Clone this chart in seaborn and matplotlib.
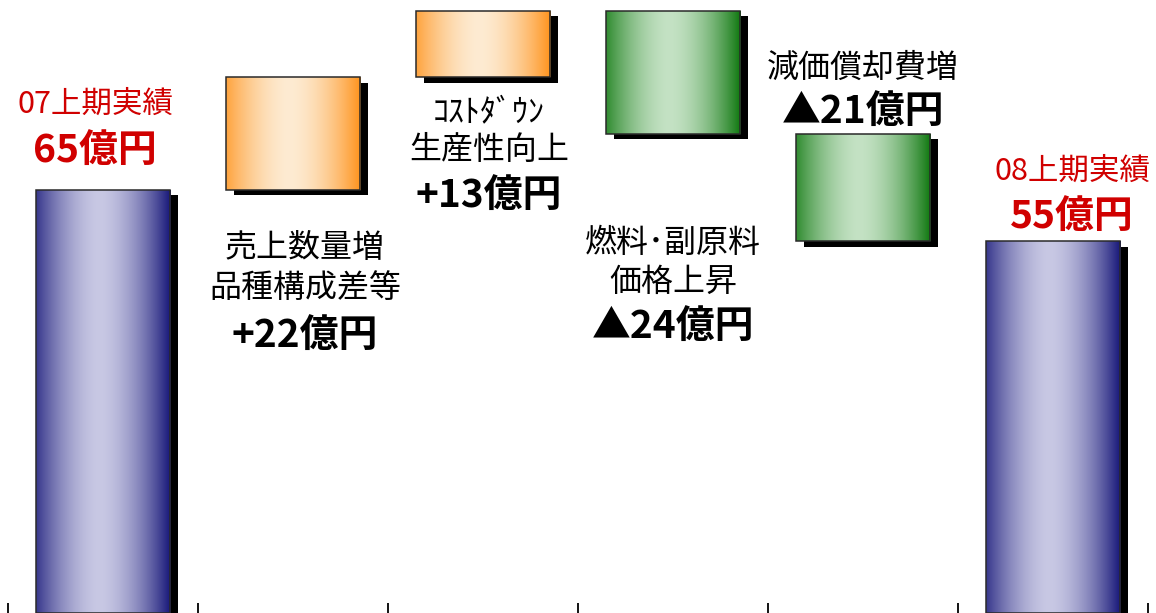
import numpy as np
import pandas as pd
import matplotlib
matplotlib.use("Agg")
import matplotlib.pyplot as plt
import matplotlib.patheffects as pe
from matplotlib.patches import Rectangle
from matplotlib.colors import to_rgb
import seaborn as sns

# ---- data -------------------------------------------------------------
steps = ["07上期実績", "売上数量増・品種構成差等", "コストダウン・生産性向上",
         "燃料・副原料価格上昇", "減価償却費増", "08上期実績"]
amounts = [65, 22, 13, -24, -21, 55]          # 億円
kinds = ["total", "up", "up", "down", "down", "total"]
captions = [
    ["07上期実績"],
    ["売上数量増", "品種構成差等"],
    ["ｺｽﾄﾀﾞｳﾝ", "生産性向上"],
    ["燃料･副原料", "価格上昇"],
    ["減価償却費増"],
    ["08上期実績"],
]

# ---- style ------------------------------------------------------------
sns.set_style("white")
plt.rcParams["font.family"] = ["Noto Sans CJK JP", "DejaVu Sans"]

Y_FLOOR, Y_TOP = -17.6, 102.1
PX = 1 / 1.3889                                   # pixels -> points at 100 dpi

palette = {
    "total": ("#161678", "#c8c8e4"),
    "up": ("#ff931c", "#fdebd2"),
    "down": ("#0f780f", "#c4e2c4"),
}

# running totals for the waterfall
bottoms, heights, tops = [], [], []
level = 0
for amt, kind in zip(amounts, kinds):
    if kind == "total":
        level = amt
        bottoms.append(Y_FLOOR)
        heights.append(amt - Y_FLOOR)
    else:
        start = level
        level = level + amt
        bottoms.append(min(start, level))
        heights.append(abs(amt))
    tops.append(bottoms[-1] + heights[-1])

df = pd.DataFrame({"step": steps, "height": heights})

fig = plt.figure(figsize=(11.56, 6.13), dpi=100)
ax = fig.add_axes([0, 0, 1, 1])

sns.barplot(data=df, x="step", y="height", order=steps, bottom=np.array(bottoms),
            width=0.71, errorbar=None, ax=ax, color="white", zorder=1)

shadow = [pe.SimplePatchShadow(offset=(8 * PX, -5.5 * PX), shadow_rgbFace="black",
                               alpha=1.0), pe.Normal()]


def gradient_strip(edge, centre, n=256):
    t = np.linspace(0, 1, n)
    w = 1 - np.abs(2 * (t - 0.47) / (1 + 2 * abs(0.5 - 0.47))) ** 1.7
    w = np.clip(w, 0, 1)
    e, c = np.array(to_rgb(edge)), np.array(to_rgb(centre))
    rgb = e[None, :] * (1 - w[:, None]) + c[None, :] * w[:, None]
    return rgb[None, :, :]


for patch, kind in zip(ax.patches, kinds):
    patch.set_facecolor("none")
    patch.set_edgecolor("none")
    patch.set_path_effects(shadow)
    x0, y0 = patch.get_x(), patch.get_y()
    w, h = patch.get_width(), patch.get_height()
    edge, centre = palette[kind]
    im = ax.imshow(gradient_strip(edge, centre), extent=[x0, x0 + w, y0, y0 + h],
                   aspect="auto", interpolation="bilinear", zorder=2)
    im.set_clip_path(patch)
    ax.add_patch(Rectangle((x0, y0), w, h, facecolor="none", edgecolor="#2a2a2a",
                           linewidth=1.1, zorder=3))

# ---- labels -----------------------------------------------------------
# (anchor, x offset px, y offsets px for caption lines, y offset px for value)
layout = [
    ("top", -8, [-86], -40),
    ("bottom", 12, [58, 98], 145),
    ("bottom", 6, [36, 73], 118),
    ("bottom", 0, [109, 148], 193),
    ("top", 0, [-66], -22),
    ("top", 19, [-70], -25),
]

for i, (amt, kind, lines, (anchor, dx, dys, dyv)) in enumerate(
        zip(amounts, kinds, captions, layout)):
    yref = tops[i] if anchor == "top" else bottoms[i]
    colour = "#d00000" if kind == "total" else "black"
    cap_size = 22 if kind == "total" else 23
    for line, dy in zip(lines, dys):
        ax.annotate(line, xy=(i, yref), xytext=(dx * PX, -dy * PX),
                    textcoords="offset points", ha="center", va="center",
                    fontsize=cap_size, color=colour, zorder=5)
    if kind == "total":
        value_txt = f"{amt}億円"
    elif amt > 0:
        value_txt = f"+{amt}億円"
    else:
        value_txt = f"▲{abs(amt)}億円"
    ax.annotate(value_txt, xy=(i, yref), xytext=(dx * PX, -dyv * PX),
                textcoords="offset points", ha="center", va="center",
                fontsize=28, fontweight="bold", color=colour, zorder=5)

# ---- axes -------------------------------------------------------------
ax.set_xlim(-0.542, 5.542)
ax.set_ylim(Y_FLOOR, Y_TOP)
ax.set_xticks(np.arange(len(steps) + 1) - 0.5)
ax.set_xticklabels([])
ax.set_yticks([])
ax.tick_params(axis="x", direction="in", length=10 * PX, width=1.3, color="black",
               bottom=True)
for s in ax.spines.values():
    s.set_visible(False)
ax.set_xlabel("")
ax.set_ylabel("")

fig.savefig("out.png", dpi=100)
